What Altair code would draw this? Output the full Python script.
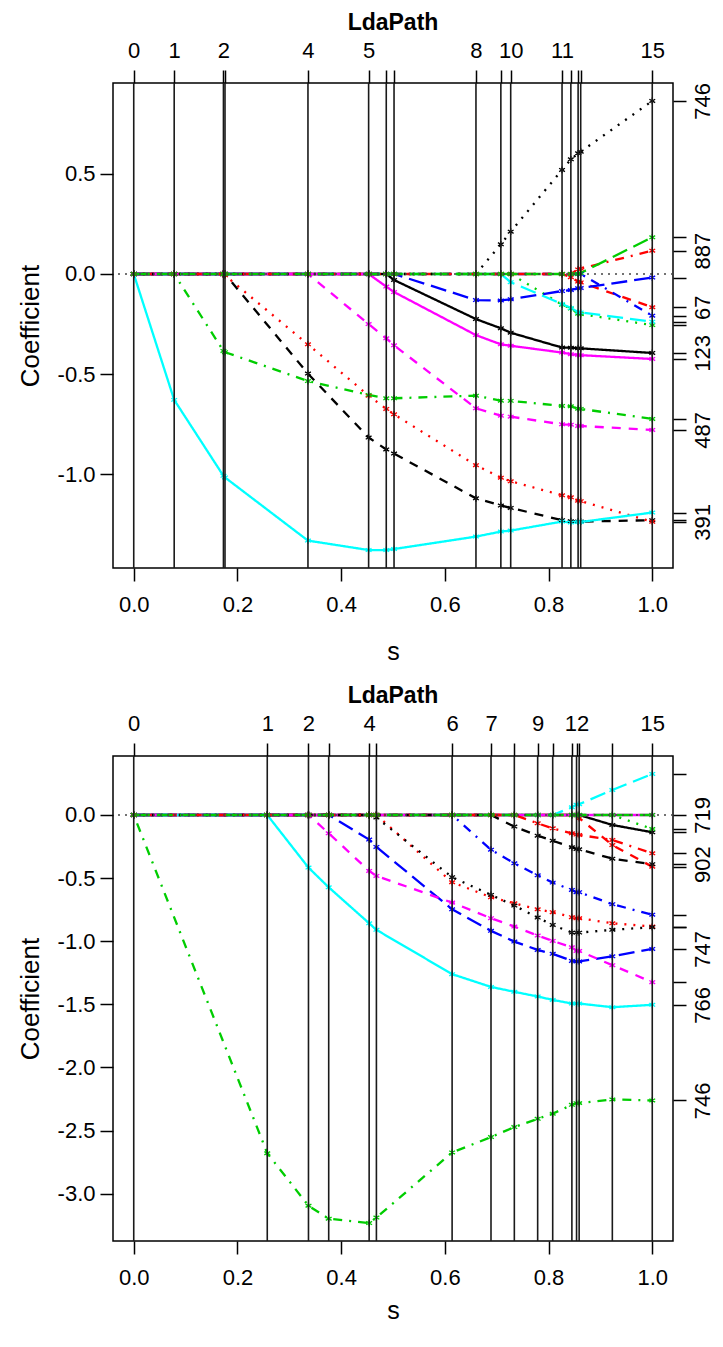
import altair as alt
import pandas as pd

FONT = "Liberation Sans"
R_COLORS = ["#000000", "#FF0000", "#00CD00", "#0000FF", "#00FFFF", "#FF00FF"]
R_DASHES = [[1, 0], [9, 8], [2, 7], [2, 7, 9, 7], [16, 7]]
STAR = "M0,-1L0,1M-0.87,-0.5L0.87,0.5M-0.87,0.5L0.87,-0.5"

# ---------------- top panel ----------------
top_s = [0.0, 0.078, 0.173, 0.176, 0.336, 0.453, 0.487, 0.502, 0.660, 0.708,
         0.727, 0.826, 0.843, 0.857, 0.862, 1.0]
top_step_labels = ["0", "1", "2", "", "4", "5", "", "", "8", "", "10", "11",
                   "", "", "", "15"]
top_coefs = [
    [0, 0, 0, 0, 0, 0, 0, -0.03, -0.225, -0.271, -0.293, -0.367, -0.368, -0.370, -0.371, -0.394],
    [0, 0, 0, 0, 0, 0, 0, 0, 0, 0, 0, 0, -0.016, -0.038, -0.042, -0.166],
    [0, 0, 0, 0, 0, 0, 0, 0, 0, 0, 0, -0.153, -0.172, -0.198, -0.200, -0.255],
    [0, 0, 0, 0, 0, 0, 0, 0, 0, 0, 0, 0, 0, 0, 0, -0.208],
    [0, 0, 0, 0, 0, 0, 0, 0, 0, 0, -0.041, -0.150, -0.170, -0.190, -0.192, -0.238],
    [0, 0, 0, 0, 0, 0, -0.063, -0.090, -0.305, -0.351, -0.358, -0.392, -0.400, -0.404, -0.405, -0.424],
    [0, 0, 0, 0, -0.497, -0.816, -0.875, -0.896, -1.119, -1.155, -1.167, -1.228, -1.233, -1.235, -1.235, -1.228],
    [0, 0, 0, -0.007, -0.351, -0.607, -0.673, -0.700, -0.954, -1.016, -1.034, -1.104, -1.114, -1.131, -1.133, -1.236],
    [0, 0, -0.384, -0.390, -0.534, -0.603, -0.620, -0.620, -0.607, -0.632, -0.633, -0.658, -0.660, -0.672, -0.673, -0.723],
    [0, 0, 0, 0, 0, 0, 0, 0, -0.130, -0.132, -0.126, -0.085, -0.080, -0.071, -0.070, -0.018],
    [0, -0.628, -1.007, -1.015, -1.330, -1.377, -1.377, -1.372, -1.310, -1.285, -1.280, -1.235, -1.240, -1.237, -1.237, -1.190],
    [0, 0, 0, 0, 0, -0.250, -0.321, -0.356, -0.670, -0.707, -0.712, -0.750, -0.752, -0.758, -0.758, -0.778],
    [0, 0, 0, 0, 0, 0, 0, 0, 0, 0.148, 0.211, 0.519, 0.572, 0.602, 0.610, 0.863],
    [0, 0, 0, 0, 0, 0, 0, 0, 0, 0, 0, 0, 0, 0.023, 0.027, 0.116],
    [0, 0, 0, 0, 0, 0, 0, 0, 0, 0, 0, 0, 0, 0, 0.005, 0.183],
]
top_names = ["123", "67", "", "", "", "", "", "391", "", "", "", "487", "746", "887", ""]
top_yticks = [-1.0, -0.5, 0.0, 0.5]

# ---------------- bottom panel ----------------
bot_s = [0.0, 0.2575, 0.337, 0.376, 0.454, 0.468, 0.614, 0.689, 0.734, 0.779,
         0.808, 0.845, 0.854, 0.859, 0.923, 1.0]
bot_step_labels = ["0", "1", "2", "", "4", "", "6", "7", "", "9", "", "",
                   "12", "", "", "15"]
bot_coefs = [
    [0, 0, 0, 0, 0, 0, 0, 0, 0, 0, 0, 0, 0, 0, -0.079, -0.137],
    [0, 0, 0, 0, 0, 0, 0, 0, 0, 0, 0, 0, 0, -0.025, -0.238, -0.410],
    [0, 0, 0, 0, 0, 0, 0, 0, 0, 0, 0, 0, 0, 0, 0, -0.111],
    [0, 0, 0, 0, 0, 0, 0, -0.275, -0.383, -0.478, -0.536, -0.594, -0.612, -0.612, -0.707, -0.790],
    [0, 0, 0, 0, 0, 0, 0, 0, 0, 0, 0, 0.061, 0.082, 0.085, 0.198, 0.325],
    [0, 0, 0, 0, 0, 0, 0, 0, 0, 0, 0, 0, 0, 0, 0, 0],
    [0, 0, 0, 0, 0, 0, 0, 0, -0.092, -0.164, -0.204, -0.256, -0.270, -0.272, -0.346, -0.390],
    [0, 0, 0, 0, 0, 0, -0.533, -0.652, -0.700, -0.747, -0.770, -0.810, -0.818, -0.818, -0.858, -0.884],
    [0, -2.680, -3.096, -3.199, -3.233, -3.190, -2.674, -2.552, -2.473, -2.407, -2.367, -2.296, -2.283, -2.283, -2.254, -2.262],
    [0, 0, 0, 0, -0.195, -0.253, -0.747, -0.918, -1.003, -1.069, -1.100, -1.156, -1.160, -1.160, -1.120, -1.061],
    [0, 0, -0.417, -0.573, -0.858, -0.910, -1.261, -1.362, -1.401, -1.438, -1.465, -1.494, -1.494, -1.494, -1.523, -1.504],
    [0, 0, 0, -0.145, -0.443, -0.483, -0.694, -0.818, -0.884, -0.955, -0.998, -1.048, -1.077, -1.077, -1.190, -1.325],
    [0, 0, 0, 0, 0, -0.020, -0.493, -0.633, -0.718, -0.813, -0.871, -0.932, -0.932, -0.932, -0.910, -0.889],
    [0, 0, 0, 0, 0, 0, 0, 0, 0, -0.066, -0.106, -0.145, -0.155, -0.158, -0.198, -0.304],
    [0, 0, 0, 0, 0, 0, 0, 0, 0, 0, 0, 0, 0, 0, 0, 0],
]
bot_names = ["", "", "", "", "", "719", "902", "", "746", "747", "766", "", "", "", ""]
bot_yticks = [-3.0, -2.5, -2.0, -1.5, -1.0, -0.5, 0.0]

x_ticks = [0.0, 0.2, 0.4, 0.6, 0.8, 1.0]


def match_expr(values, labels):
    parts = [f"abs(datum.value - ({v!r})) < 1e-9 ? '{lab}'"
             for v, lab in zip(values, labels) if lab]
    return " : ".join(parts) + " : ''"


YLAB = "datum.value < 0 ? '-' + format(-datum.value, '.1f') : format(datum.value, '.1f')"
LAB_FS = 22


def make_panel(s, step_labels, coefs, names, yticks, s_title_pad):
    nvar = len(coefs)
    ids = [f"v{j + 1:02d}" for j in range(nvar)]
    rows = []
    for j, c in enumerate(coefs):
        for k, (sv, cv) in enumerate(zip(s, c)):
            rows.append({"var": ids[j], "step": k, "s": sv, "coef": cv})
    df = pd.DataFrame(rows)
    allv = [v for c in coefs for v in c]
    lo, hi = min(allv), max(allv)
    ypad = 0.04 * (hi - lo)
    xpad = 0.04 * (max(s) - min(s))
    xsc = alt.Scale(domain=[min(s) - xpad, max(s) + xpad], nice=False, zero=False)
    ysc = alt.Scale(domain=[lo - ypad, hi + ypad], nice=False, zero=False)
    colsc = alt.Scale(domain=ids, range=[R_COLORS[j % 6] for j in range(nvar)])
    dashsc = alt.Scale(domain=ids, range=[R_DASHES[j % 5] for j in range(nvar)])

    x_bottom = alt.Axis(orient="bottom", values=x_ticks, labelExpr="format(datum.value, '.1f')",
                        tickSize=13, tickWidth=1.5, tickColor="black", domain=False, grid=False,
                        labelFontSize=LAB_FS, labelPadding=13, labelFlush=False, labelOverlap=False,
                        labelColor="black", title="s", titleFontSize=25, titleFontWeight="normal",
                        titlePadding=s_title_pad, titleColor="black")
    y_left = alt.Axis(orient="left", values=yticks, labelExpr=YLAB, tickSize=13, tickWidth=1.5,
                      tickColor="black", domain=False, grid=False, labelFontSize=LAB_FS,
                      labelPadding=5, labelOverlap=False, labelColor="black",
                      title="Coefficient", titleFontSize=26, titleFontWeight="normal",
                      titlePadding=14, titleColor="black")

    lines = alt.Chart(df).mark_line(strokeWidth=2.3).encode(
        x=alt.X("s:Q", scale=xsc, axis=x_bottom),
        y=alt.Y("coef:Q", scale=ysc, axis=y_left),
        color=alt.Color("var:N", scale=colsc, legend=None),
        strokeDash=alt.StrokeDash("var:N", scale=dashsc, legend=None),
        order="step:Q",
    )
    points = alt.Chart(df).mark_point(shape=STAR, filled=False, size=45, strokeWidth=1.3,
                                      opacity=1).encode(
        x=alt.X("s:Q", scale=xsc, axis=None),
        y=alt.Y("coef:Q", scale=ysc, axis=None),
        color=alt.Color("var:N", scale=colsc, legend=None),
    )
    zero = alt.Chart(pd.DataFrame({"z": [0.0]})).mark_rule(
        color="#444444", strokeWidth=1.3, strokeDash=[2, 5]).encode(
        y=alt.Y("z:Q", scale=ysc, axis=None))

    brk = pd.DataFrame({"s": s})
    top_axis = alt.Axis(orient="top", values=s, labelExpr=match_expr(s, step_labels),
                        tickSize=13, tickWidth=1.5, tickColor="black", domain=False, grid=False,
                        labelFontSize=LAB_FS, labelPadding=8, labelFlush=False, labelOverlap=False,
                        labelColor="black", title=None)
    vrules = alt.Chart(brk).mark_rule(color="#1a1a1a", strokeWidth=1.6).encode(
        x=alt.X("s:Q", scale=xsc, axis=top_axis))

    finals = [c[-1] for c in coefs]
    fin = pd.DataFrame({"f": finals})
    right_axis = alt.Axis(orient="right", values=finals, labelExpr=match_expr(finals, names),
                          tickSize=13, tickWidth=1.5, tickColor="black", domain=False, grid=False,
                          labelFontSize=LAB_FS, labelPadding=6, labelAngle=270, labelAlign="center",
                          labelBaseline="top", labelOverlap=False, labelFlush=False,
                          labelColor="black", title=None)
    rticks = alt.Chart(fin).mark_tick(opacity=0).encode(
        y=alt.Y("f:Q", scale=ysc, axis=right_axis))

    return alt.layer(lines, points, zero, vrules, rticks).resolve_axis(
        x="independent", y="independent").properties(
        width=560, height=485,
        title=alt.TitleParams("LdaPath", fontSize=23, fontWeight="bold", font=FONT,
                              color="black", baseline="alphabetic", offset=-14))


top = make_panel(top_s, top_step_labels, top_coefs, top_names, top_yticks, 24)
bottom = make_panel(bot_s, bot_step_labels, bot_coefs, bot_names, bot_yticks, 10)

chart = alt.vconcat(top, bottom, spacing=188, bounds="flush").properties(
    padding={"left": 8, "top": 3, "right": 0, "bottom": 0}
).configure(font=FONT).configure_view(
    stroke="black", strokeWidth=1.5
).configure_axis(labelFont=FONT, titleFont=FONT)

chart.save("out.html", embed_options={"renderer": "svg", "actions": False})
